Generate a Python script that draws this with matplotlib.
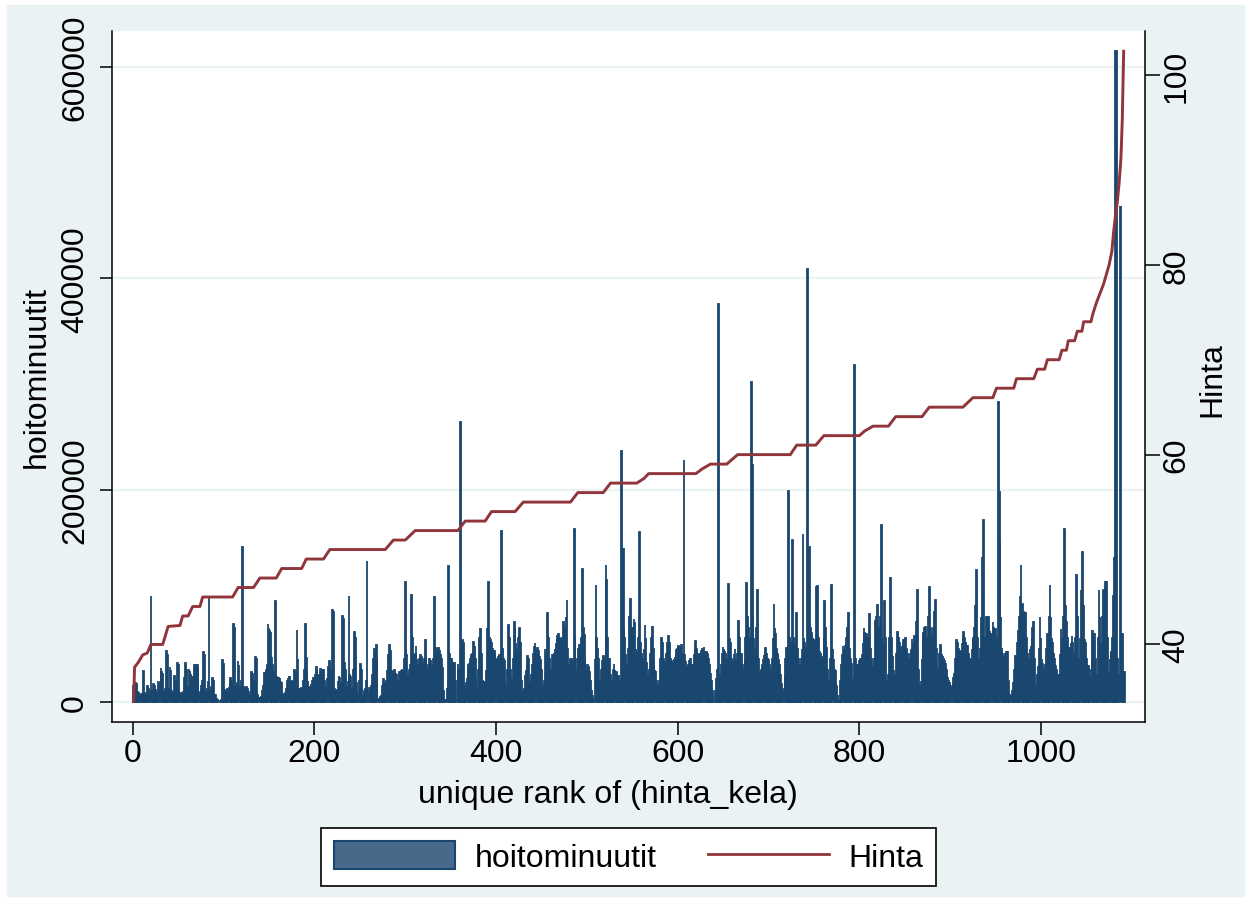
import numpy as np
import matplotlib
matplotlib.use("Agg")
import matplotlib.pyplot as plt
from matplotlib.patches import Patch, Rectangle
from matplotlib.lines import Line2D

plt.rcParams['font.family'] = ['Liberation Sans', 'DejaVu Sans']

# hoitominuutit per unique rank of hinta_kela, in thousands
hoitominuutit_k = [
    15, 6, 18, 17, 9, 4, 9, 6, 3, 7,
    5, 29, 8, 6, 4, 15, 12, 5, 8, 100,
    10, 6, 17, 15, 11, 8, 6, 19, 16, 7,
    32, 28, 26, 9, 6, 12, 48, 44, 12, 8,
    33, 30, 10, 8, 6, 24, 20, 8, 37, 35,
    9, 6, 9, 7, 5, 9, 22, 37, 30, 14,
    12, 31, 29, 26, 23, 18, 23, 35, 33, 35,
    35, 32, 7, 6, 9, 15, 20, 47, 44, 9,
    8, 12, 20, 98, 12, 10, 14, 22, 20, 6,
    6, 3, 2, 1, 1, 0, 1, 2, 39, 36,
    11, 9, 9, 12, 9, 14, 18, 22, 20, 18,
    73, 70, 15, 12, 18, 38, 35, 15, 12, 20,
    146, 14, 13, 12, 14, 12, 8, 10, 6, 6,
    28, 26, 20, 8, 42, 40, 6, 5, 4, 4,
    3, 4, 10, 15, 27, 24, 30, 35, 73, 70,
    68, 65, 41, 35, 28, 20, 95, 23, 22, 23,
    23, 22, 19, 18, 7, 6, 5, 8, 12, 20,
    22, 24, 24, 19, 19, 20, 15, 30, 28, 22,
    68, 40, 13, 12, 12, 13, 12, 20, 30, 73,
    41, 29, 20, 15, 13, 10, 16, 20, 22, 20,
    25, 33, 30, 25, 22, 25, 31, 28, 30, 30,
    20, 13, 14, 22, 34, 34, 38, 30, 25, 87,
    85, 12, 10, 9, 12, 20, 24, 22, 12, 18,
    81, 78, 37, 30, 12, 15, 20, 100, 25, 23,
    9, 12, 30, 66, 60, 18, 10, 4, 6, 20,
    36, 30, 4, 5, 10, 12, 20, 133, 3, 8,
    13, 12, 15, 25, 40, 50, 48, 54, 40, 3,
    3, 3, 4, 5, 15, 21, 18, 12, 20, 30,
    45, 42, 54, 48, 29, 25, 28, 30, 26, 22,
    26, 18, 20, 28, 25, 29, 30, 28, 40, 113,
    50, 45, 20, 25, 30, 35, 101, 60, 44, 40,
    45, 53, 40, 31, 35, 40, 44, 42, 37, 35,
    40, 58, 45, 31, 28, 35, 40, 38, 34, 30,
    40, 99, 51, 45, 48, 51, 51, 48, 44, 40,
    32, 10, 2, 2, 2, 13, 20, 128, 45, 40,
    40, 37, 30, 37, 20, 2, 3, 36, 30, 25,
    264, 20, 58, 55, 15, 12, 19, 22, 36, 30,
    36, 40, 44, 45, 56, 52, 40, 22, 15, 10,
    30, 60, 69, 45, 20, 10, 19, 15, 30, 70,
    65, 113, 60, 58, 55, 50, 48, 48, 45, 40,
    37, 40, 42, 44, 35, 161, 50, 40, 38, 20,
    14, 10, 30, 72, 60, 30, 21, 18, 40, 75,
    70, 55, 50, 45, 60, 70, 55, 20, 10, 8,
    12, 25, 30, 35, 43, 40, 19, 15, 25, 35,
    45, 52, 55, 50, 48, 51, 48, 42, 39, 30,
    15, 9, 20, 50, 45, 50, 84, 60, 40, 25,
    30, 44, 40, 45, 50, 55, 59, 62, 64, 60,
    58, 55, 60, 75, 70, 65, 80, 96, 50, 32,
    35, 40, 40, 38, 35, 163, 60, 30, 25, 40,
    50, 54, 45, 60, 125, 70, 63, 40, 25, 30,
    35, 33, 28, 20, 10, 5, 1, 3, 40, 110,
    60, 50, 40, 15, 20, 30, 38, 43, 40, 35,
    129, 115, 60, 40, 40, 25, 17, 20, 30, 36,
    30, 25, 28, 24, 24, 20, 15, 237, 30, 144,
    70, 61, 45, 35, 31, 50, 80, 97, 70, 66,
    70, 78, 75, 50, 46, 40, 60, 160, 55, 45,
    40, 35, 50, 72, 60, 37, 25, 18, 30, 45,
    60, 71, 50, 40, 30, 29, 20, 15, 9, 20,
    40, 60, 55, 40, 38, 35, 37, 45, 55, 62,
    55, 40, 38, 35, 37, 40, 42, 45, 49, 50,
    53, 52, 50, 54, 45, 40, 228, 45, 38, 33,
    30, 35, 38, 40, 35, 30, 35, 45, 50, 57,
    50, 45, 42, 44, 45, 48, 50, 49, 52, 48,
    45, 47, 45, 40, 35, 26, 20, 10, 5, 1,
    1, 10, 21, 30, 376, 20, 25, 35, 45, 52,
    50, 48, 45, 40, 35, 111, 59, 55, 40, 38,
    35, 45, 50, 40, 38, 45, 76, 60, 40, 45,
    35, 28, 30, 40, 60, 112, 80, 70, 60, 50,
    302, 224, 80, 60, 50, 40, 70, 106, 40, 28,
    28, 30, 35, 40, 44, 48, 51, 45, 40, 39,
    35, 30, 28, 40, 60, 92, 70, 64, 50, 45,
    39, 35, 25, 17, 12, 10, 10, 25, 40, 51,
    50, 199, 60, 55, 50, 153, 60, 55, 50, 60,
    84, 50, 40, 35, 34, 40, 50, 158, 60, 55,
    51, 45, 409, 80, 146, 70, 65, 62, 60, 58,
    58, 55, 108, 109, 60, 47, 45, 42, 42, 40,
    60, 95, 70, 51, 30, 15, 20, 40, 110, 50,
    50, 40, 30, 29, 15, 5, 1, 1, 20, 35,
    45, 53, 50, 48, 53, 60, 70, 84, 50, 40,
    36, 20, 18, 25, 318, 40, 35, 31, 35, 38,
    40, 40, 45, 55, 70, 65, 60, 64, 55, 60,
    83, 50, 40, 34, 30, 35, 40, 76, 80, 91,
    70, 60, 80, 167, 60, 55, 50, 95, 60, 20,
    15, 25, 60, 117, 60, 45, 43, 30, 21, 25,
    45, 66, 60, 55, 50, 53, 50, 55, 58, 58,
    60, 50, 45, 40, 37, 45, 50, 59, 55, 50,
    62, 60, 75, 106, 30, 15, 9, 20, 40, 61,
    65, 70, 71, 60, 55, 80, 108, 70, 65, 62,
    60, 70, 85, 96, 50, 20, 30, 45, 54, 50,
    45, 43, 40, 38, 36, 30, 22, 20, 18, 15,
    14, 12, 18, 22, 26, 40, 58, 55, 50, 48,
    45, 48, 55, 60, 66, 60, 55, 53, 53, 45,
    40, 34, 40, 50, 58, 60, 70, 90, 124, 60,
    40, 33, 50, 80, 137, 100, 172, 60, 46, 80,
    70, 80, 66, 64, 64, 60, 75, 70, 60, 69,
    60, 55, 283, 150, 199, 80, 51, 45, 42, 40,
    45, 47, 47, 20, 6, 3, 6, 5, 10, 18,
    30, 43, 43, 55, 67, 80, 100, 129, 90, 92,
    85, 84, 84, 60, 45, 39, 40, 50, 53, 60,
    70, 75, 40, 15, 15, 25, 33, 50, 80, 60,
    40, 36, 30, 26, 35, 50, 64, 60, 80, 110,
    80, 60, 55, 45, 40, 34, 30, 25, 20, 25,
    45, 69, 60, 50, 80, 163, 90, 75, 60, 51,
    51, 50, 55, 62, 55, 45, 45, 60, 120, 80,
    40, 34, 60, 106, 100, 141, 90, 58, 55, 40,
    34, 34, 30, 23, 23, 40, 67, 64, 64, 40,
    25, 25, 60, 106, 80, 55, 55, 80, 106, 100,
    113, 113, 60, 28, 28, 40, 47, 47, 60, 100,
    136, 615, 615, 40, 25, 25, 468, 468, 64, 64,
    28, 28,
]

# Hinta (price) line: rank / price points
hinta_rank = [1, 2, 6, 11, 16, 20, 33, 39, 52, 55, 61, 66, 74, 77, 110, 116,
              133, 140, 158, 164, 186, 191, 210, 217, 278, 287, 300, 311, 358,
              366, 388, 395, 421, 430, 482, 490, 518, 526, 555, 563, 568, 620,
              627, 636, 654, 666, 724, 731, 752, 761, 800, 806, 815, 832, 840,
              869, 877, 914, 925, 947, 951, 970, 973, 992, 996, 1004, 1007,
              1020, 1023, 1028, 1030, 1037, 1040, 1045, 1047, 1055, 1057, 1061,
              1065, 1069, 1072, 1075, 1078, 1080, 1082, 1084, 1086, 1088, 1089.5,
              1091]
hinta_price = [34.0, 37.6, 38.1, 38.9, 39.1, 40.0, 40.0, 41.9, 42.0, 43.0, 43.0,
               44.0, 44.0, 45.0, 45.0, 46.0, 46.0, 47.0, 47.0, 48.0, 48.0, 49.0,
               49.0, 50.0, 50.0, 51.0, 51.0, 52.0, 52.0, 53.0, 53.0, 54.0, 54.0,
               55.0, 55.0, 56.0, 56.0, 57.0, 57.0, 57.5, 58.0, 58.0, 58.5, 59.0,
               59.0, 60.0, 60.0, 61.0, 61.0, 62.0, 62.0, 62.5, 63.0, 63.0, 64.0,
               64.0, 65.0, 65.0, 66.0, 66.0, 67.0, 67.0, 68.0, 68.0, 69.0, 69.0,
               70.0, 70.0, 71.0, 71.0, 72.0, 72.0, 73.0, 73.0, 74.0, 74.0, 74.8,
               76.0, 77.0, 78.0, 79.0, 80.0, 81.4, 83.5, 85.2, 86.6, 88.6, 91.2,
               95.3, 102.5]

x_ticks = [0, 200, 400, 600, 800, 1000]
y_ticks = [0, 200000, 400000, 600000]
y2_ticks = [40, 60, 80, 100]

BAR = '#1a476f'
RED = '#90353b'
BG = '#eaf2f3'
W, H = 1251, 904

fig = plt.figure(figsize=(W / 100, H / 100), dpi=100, facecolor='white')
fig.patches.append(Rectangle((7 / W, 1 - 897 / H), (1244 - 7) / W, (897 - 6) / H,
                             transform=fig.transFigure, color=BG, zorder=-10))

ax = fig.add_axes([112.3 / W, (H - 723.3) / H, (1145 - 112.3) / W, (723.3 - 32.3) / H])
ax.set_facecolor('white')

ranks = np.arange(1, len(hoitominuutit_k) + 1)
values = np.array(hoitominuutit_k) * 1000
ax.bar(ranks, values, width=0.8, color=BAR, edgecolor=BAR, linewidth=1.3, zorder=2)

ax.set_xlim(-22.5, 1114.5)
ax.set_ylim(-19465, 633450)
ax.set_xticks(x_ticks)
ax.set_xticklabels([str(t) for t in x_ticks])
ax.set_yticks(y_ticks)
ax.set_yticklabels([str(t) for t in y_ticks])
ax.yaxis.grid(True, color=BG, lw=1.6, zorder=0)
ax.set_axisbelow(True)

ax2 = ax.twinx()
ax2.plot(hinta_rank, hinta_price, color=RED, lw=2.1, zorder=3)
ax2.set_ylim(31.8, 104.6)
ax2.set_yticks(y2_ticks)
ax2.set_yticklabels([str(t) for t in y2_ticks])

for a in (ax, ax2):
    a.spines['top'].set_visible(False)
    for s in a.spines.values():
        s.set_linewidth(1.1)
        s.set_color('black')
ax.spines['right'].set_visible(False)
ax2.spines['left'].set_visible(False)
ax2.spines['bottom'].set_visible(False)

ax.tick_params(axis='x', direction='out', length=9, width=1.1, labelsize=23, pad=2.5)
ax.tick_params(axis='y', direction='out', length=9, width=1.1, labelsize=23, pad=7)
ax2.tick_params(axis='y', direction='out', length=11, width=1.1, labelsize=23, pad=1)
for lab in ax.get_yticklabels():
    lab.set_rotation(90)
    lab.set_va('center')
for lab in ax2.get_yticklabels():
    lab.set_rotation(90)
    lab.set_va('center')

fig.text(37 / W, 1 - 377 / H, 'hoitominuutit', rotation=90, ha='center', va='center', fontsize=23)
fig.text(1212 / W, 1 - 380 / H, 'Hinta', rotation=90, ha='center', va='center', fontsize=23)
fig.text(608 / W, 1 - 795 / H, 'unique rank of (hinta_kela)', ha='center', va='center', fontsize=23)

handles = [Patch(facecolor='#486a8a', edgecolor=BAR, lw=1.5),
           Line2D([], [], color=RED, lw=2)]
leg = fig.legend(handles, ['hoitominuutit', 'Hinta'], loc='center',
                 bbox_to_anchor=(628.5 / W, 1 - 858 / H), ncol=2, frameon=True,
                 fancybox=False, edgecolor='black', framealpha=1, fontsize=23,
                 handlelength=3.8, handleheight=0.97, handletextpad=0.6,
                 columnspacing=1.6, borderpad=0.4)
leg.get_frame().set_linewidth(1.2)

fig.savefig('out.png', dpi=100, facecolor='white')
